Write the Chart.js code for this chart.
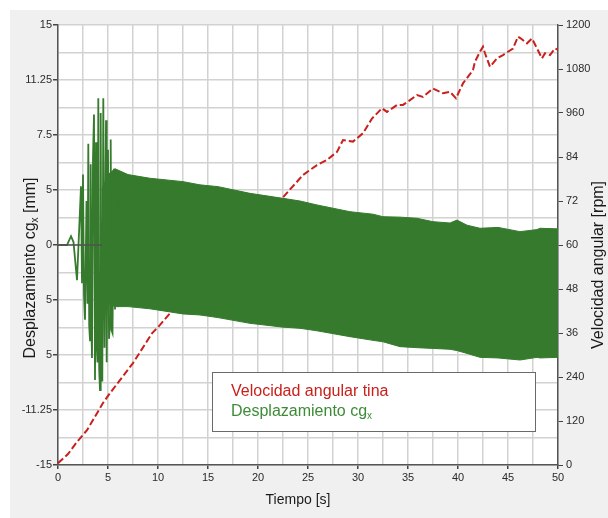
<!DOCTYPE html>
<html lang="es">
<head>
  <meta charset="UTF-8">
  <title>Desplazamiento y velocidad angular</title>
  <script src="https://cdn.jsdelivr.net/npm/chart.js"></script>
  <style>
    html, body {
      margin: 0;
      padding: 0;
      background: #ffffff;
    }
    #chart {
      position: absolute;
      left: 0;
      top: 0;
    }
  </style>
</head>
<body>
  <canvas id="chart" width="608" height="518"></canvas>

  <script>
    // Velocidad angular tina [rpm] (eje derecho)
    const velTime = [0, 1, 1.9, 2.9, 4.5, 5.2, 7.5, 9.4, 10.2, 11.4, 14, 17, 20, 22.4, 24.5, 25.9, 26.9, 27.9,
      28.5, 29.5, 30.5, 31.4, 32.4, 32.9, 33.9, 34.5, 35.2, 35.9, 36.5, 37.5, 38.5, 39.2, 39.8, 40.5, 41.5,
      41.7, 42.2, 42.5, 42.7, 43.2, 43.9, 44.5, 45, 45.5, 46, 46.3, 46.9, 47.4, 47.9, 48.4, 48.7, 49.2, 49.7, 50];
    const velRpm = [5, 30, 63, 95, 169, 196, 278, 359, 382, 420, 490, 580, 660, 727, 791, 818, 832, 854,
      886, 882, 905, 945, 973, 963, 982, 982, 995, 1009, 1004, 1027, 1014, 1018, 1000, 1041, 1077,
      1100, 1127, 1141, 1123, 1086, 1109, 1118, 1127, 1136, 1168, 1163, 1150, 1163, 1136, 1109, 1123, 1118, 1136, 1132];

    // Desplazamiento cgx [mm]: arranque (picos y valles)
    const oscTime = [0, 0.9, 1.3, 1.55, 1.9, 2.3, 2.4, 2.5, 2.6, 2.7, 2.85, 2.95, 3.03, 3.12, 3.2, 3.27, 3.35, 3.4,
      3.5, 3.6, 3.7, 3.8, 3.88, 3.95, 4.03, 4.12, 4.2, 4.27, 4.35, 4.43, 4.53, 4.65, 4.8, 4.87, 5.0, 5.1,
      5.2, 5.27, 5.35, 5.45, 5.6, 5.7, 5.87, 6.0, 6.13];
    const oscDisp = [0, 0, 0.6, 0.2, -2.4, 4.0, -2.6, 4.8, -3.4, -5.1, 3.0, -4.0, 6.9, -5.5, -6.5, 5.5, -6.0, -7.7,
      6.0, 8.9, -9.2, 7.0, -7.0, -8.0, 10.0, -8.5, -9.9, 9.0, -8.8, -9.3, 10.0, -7.0, 8.5, -8.0, 6.5, -6.4,
      -5.3, 7.2, -5.8, -6.0, 5.2, -4.4, 5.1, -4.2, 4.9];

    // Desplazamiento cgx [mm]: envolvente de la oscilación rápida
    const bandTime = [4.4, 5.0, 5.7, 7.0, 9.2, 12.5, 14.2, 16, 19.2, 22.5, 24.2, 25.9, 29.2, 31.5, 32.5, 34.2,
      35.9, 37.5, 39.2, 39.9, 40.9, 42.2, 44, 46.2, 47.9, 48.2, 50];
    const bandUpper = [3.8, 4.8, 5.2, 4.8, 4.55, 4.32, 4.1, 3.98, 3.52, 3.18, 3.0, 2.73, 2.27, 2.1, 1.93, 1.9,
      1.82, 1.59, 1.5, 1.7, 1.35, 1.14, 1.2, 0.91, 1.05, 1.14, 1.1];
    const bandLower = [-3.8, -4.0, -4.2, -4.2, -4.35, -4.7, -4.77, -4.95, -5.34, -5.6, -5.68, -5.85, -6.25, -6.5, -6.6, -6.93,
      -7.0, -7.05, -7.11, -7.2, -7.39, -7.66, -7.7, -7.84, -7.66, -7.7, -7.66];

    // línea de cero al inicio
    const zeroTime = [0, 4.4];
    const zeroDisp = [0, 0];

    // etiquetas de los ejes
    const xTickValues = [0, 5, 10, 15, 20, 25, 30, 35, 40, 45, 50];
    const xTickLabels = ['0', '5', '10', '15', '20', '25', '30', '35', '40', '45', '50'];
    const leftTickValues = [15, 11.25, 7.5, 3.75, 0, -3.75, -7.5, -11.25, -15];
    const leftTickLabels = ['15', '11.25', '7.5', '5', '0', '5', '5', '-11.25', '-15'];
    const rightTickValues = [1200, 1080, 960, 840, 720, 600, 480, 360, 240, 120, 0];
    const rightTickLabels = ['1200', '1080', '960', '84', '72', '60', '48', '36', '240', '120', '0'];

    const RED = '#c8201c';
    const GREEN = '#367a2d';
    const FONT = "'Liberation Sans', Arial, sans-serif";

    function pts(xs, ys) {
      return xs.map((x, i) => ({ x: x, y: ys[i] }));
    }

    // ticks cada medio paso (rejilla), con etiqueta solo en los valores principales
    function halfTicks(values) {
      const out = [];
      for (let i = 0; i < values.length; i++) {
        out.push({ value: values[i] });
        if (i < values.length - 1) out.push({ value: (values[i] + values[i + 1]) / 2 });
      }
      return out;
    }
    function labelFor(values, labels, v) {
      const i = values.findIndex(t => Math.abs(t - v) < 1e-6);
      return i >= 0 ? labels[i] : '';
    }
    function isMain(values, v) {
      return values.some(t => Math.abs(t - v) < 1e-6);
    }

    const framePlugin = {
      id: 'frame',
      beforeDraw(chart) {
        const c = chart.ctx;
        const a = chart.chartArea;
        c.save();
        c.fillStyle = '#ffffff';
        c.fillRect(0, 0, chart.width, chart.height);
        c.fillStyle = '#f0f0f0';
        c.fillRect(10, 10, chart.width - 10, chart.height - 10);
        c.fillStyle = '#ffffff';
        c.fillRect(a.left, a.top, a.right - a.left, a.bottom - a.top);
        c.restore();
      },
      afterDraw(chart) {
        const c = chart.ctx;
        c.save();

        // texto con subíndice: partes [texto, esSub]
        function drawParts(parts, x, y, size, color, align) {
          c.fillStyle = color;
          c.textBaseline = 'alphabetic';
          c.textAlign = 'left';
          let total = 0;
          parts.forEach(p => {
            c.font = (p[1] ? Math.round(size * 0.62) : size) + 'px ' + FONT;
            total += c.measureText(p[0]).width;
          });
          let cx = align === 'center' ? x - total / 2 : x;
          parts.forEach(p => {
            c.font = (p[1] ? Math.round(size * 0.62) : size) + 'px ' + FONT;
            c.fillText(p[0], cx, p[1] ? y + 3 : y);
            cx += c.measureText(p[0]).width;
          });
        }

        // título eje izquierdo
        c.save();
        c.translate(35, 268);
        c.rotate(-Math.PI / 2);
        drawParts([['Desplazamiento cg', false], ['x', true], [' [mm]', false]], 0, 0, 16, '#1a1a1a', 'center');
        c.restore();

        // título eje derecho
        c.save();
        c.translate(603, 265);
        c.rotate(-Math.PI / 2);
        drawParts([['Velocidad angular [rpm]', false]], 0, 0, 16, '#1a1a1a', 'center');
        c.restore();

        // título eje x
        drawParts([['Tiempo [s]', false]], 298, 504, 14, '#1a1a1a', 'center');

        // leyenda
        c.fillStyle = '#ffffff';
        c.fillRect(212, 372, 323, 59);
        c.strokeStyle = '#6a6a6a';
        c.lineWidth = 1;
        c.strokeRect(212.5, 372.5, 323, 59);
        drawParts([['Velocidad angular tina', false]], 231, 396, 16, RED, 'left');
        drawParts([['Desplazamiento cg', false], ['x', true]], 231, 416, 16, '#3d8b37', 'left');

        c.restore();
      }
    };

    const tickFont = { family: FONT, size: 11 };
    const tickColor = '#2b2b2b';

    new Chart(document.getElementById('chart').getContext('2d'), {
      type: 'line',
      data: {
        datasets: [
          {
            label: 'cero',
            data: pts(zeroTime, zeroDisp),
            borderColor: '#505050',
            borderWidth: 1.5,
            yAxisID: 'y',
            order: 0
          },
          {
            label: 'Desplazamiento cgx (arranque)',
            data: pts(oscTime, oscDisp),
            borderColor: GREEN,
            borderWidth: 1.8,
            yAxisID: 'y',
            order: 1
          },
          {
            label: 'Desplazamiento cgx (máx)',
            data: pts(bandTime, bandUpper),
            borderColor: GREEN,
            borderWidth: 1,
            yAxisID: 'y',
            order: 1
          },
          {
            label: 'Desplazamiento cgx (mín)',
            data: pts(bandTime, bandLower),
            borderColor: GREEN,
            borderWidth: 1,
            backgroundColor: GREEN,
            fill: '-1',
            yAxisID: 'y',
            order: 1
          },
          {
            label: 'Velocidad angular tina',
            data: pts(velTime, velRpm),
            borderColor: RED,
            borderWidth: 2,
            borderDash: [7, 3],
            yAxisID: 'y2',
            order: 5
          }
        ]
      },
      options: {
        responsive: false,
        animation: false,
        parsing: false,
        layout: { padding: { top: 25, left: 0, right: 0, bottom: 0 } },
        elements: { point: { radius: 0 }, line: { tension: 0 } },
        plugins: {
          legend: { display: false },
          tooltip: { enabled: false }
        },
        scales: {
          x: {
            type: 'linear',
            min: 0,
            max: 50,
            afterBuildTicks: s => { s.ticks = halfTicks(xTickValues); },
            afterFit: s => { s.height = 53; },
            grid: {
              color: '#d2d2d2',
              lineWidth: 1.5,
              tickLength: 4,
              tickColor: ctx => isMain(xTickValues, ctx.tick.value) ? '#444' : 'rgba(0,0,0,0)'
            },
            border: { display: true, color: '#555', width: 1.5 },
            ticks: {
              autoSkip: false,
              maxRotation: 0,
              padding: 2,
              color: tickColor,
              font: tickFont,
              callback: v => labelFor(xTickValues, xTickLabels, v)
            }
          },
          y: {
            type: 'linear',
            position: 'left',
            min: -15,
            max: 15,
            afterBuildTicks: s => { s.ticks = halfTicks(leftTickValues.slice().reverse()); },
            afterFit: s => { s.width = 58; },
            grid: {
              color: '#d2d2d2',
              lineWidth: 1.5,
              tickLength: 5,
              tickColor: ctx => isMain(leftTickValues, ctx.tick.value) ? '#444' : 'rgba(0,0,0,0)'
            },
            border: { display: true, color: '#555', width: 1.5 },
            ticks: {
              autoSkip: false,
              padding: 1,
              color: tickColor,
              font: tickFont,
              callback: v => labelFor(leftTickValues, leftTickLabels, v)
            }
          },
          y2: {
            type: 'linear',
            position: 'right',
            min: 0,
            max: 1200,
            afterBuildTicks: s => { s.ticks = halfTicks(rightTickValues.slice().reverse()); },
            afterFit: s => { s.width = 50; },
            grid: {
              drawOnChartArea: false,
              tickLength: 5,
              tickColor: ctx => isMain(rightTickValues, ctx.tick.value) ? '#444' : 'rgba(0,0,0,0)'
            },
            border: { display: true, color: '#555', width: 1.5 },
            ticks: {
              autoSkip: false,
              padding: 3,
              color: tickColor,
              font: tickFont,
              callback: v => labelFor(rightTickValues, rightTickLabels, v)
            }
          }
        }
      },
      plugins: [framePlugin]
    });
  </script>
</body>
</html>
